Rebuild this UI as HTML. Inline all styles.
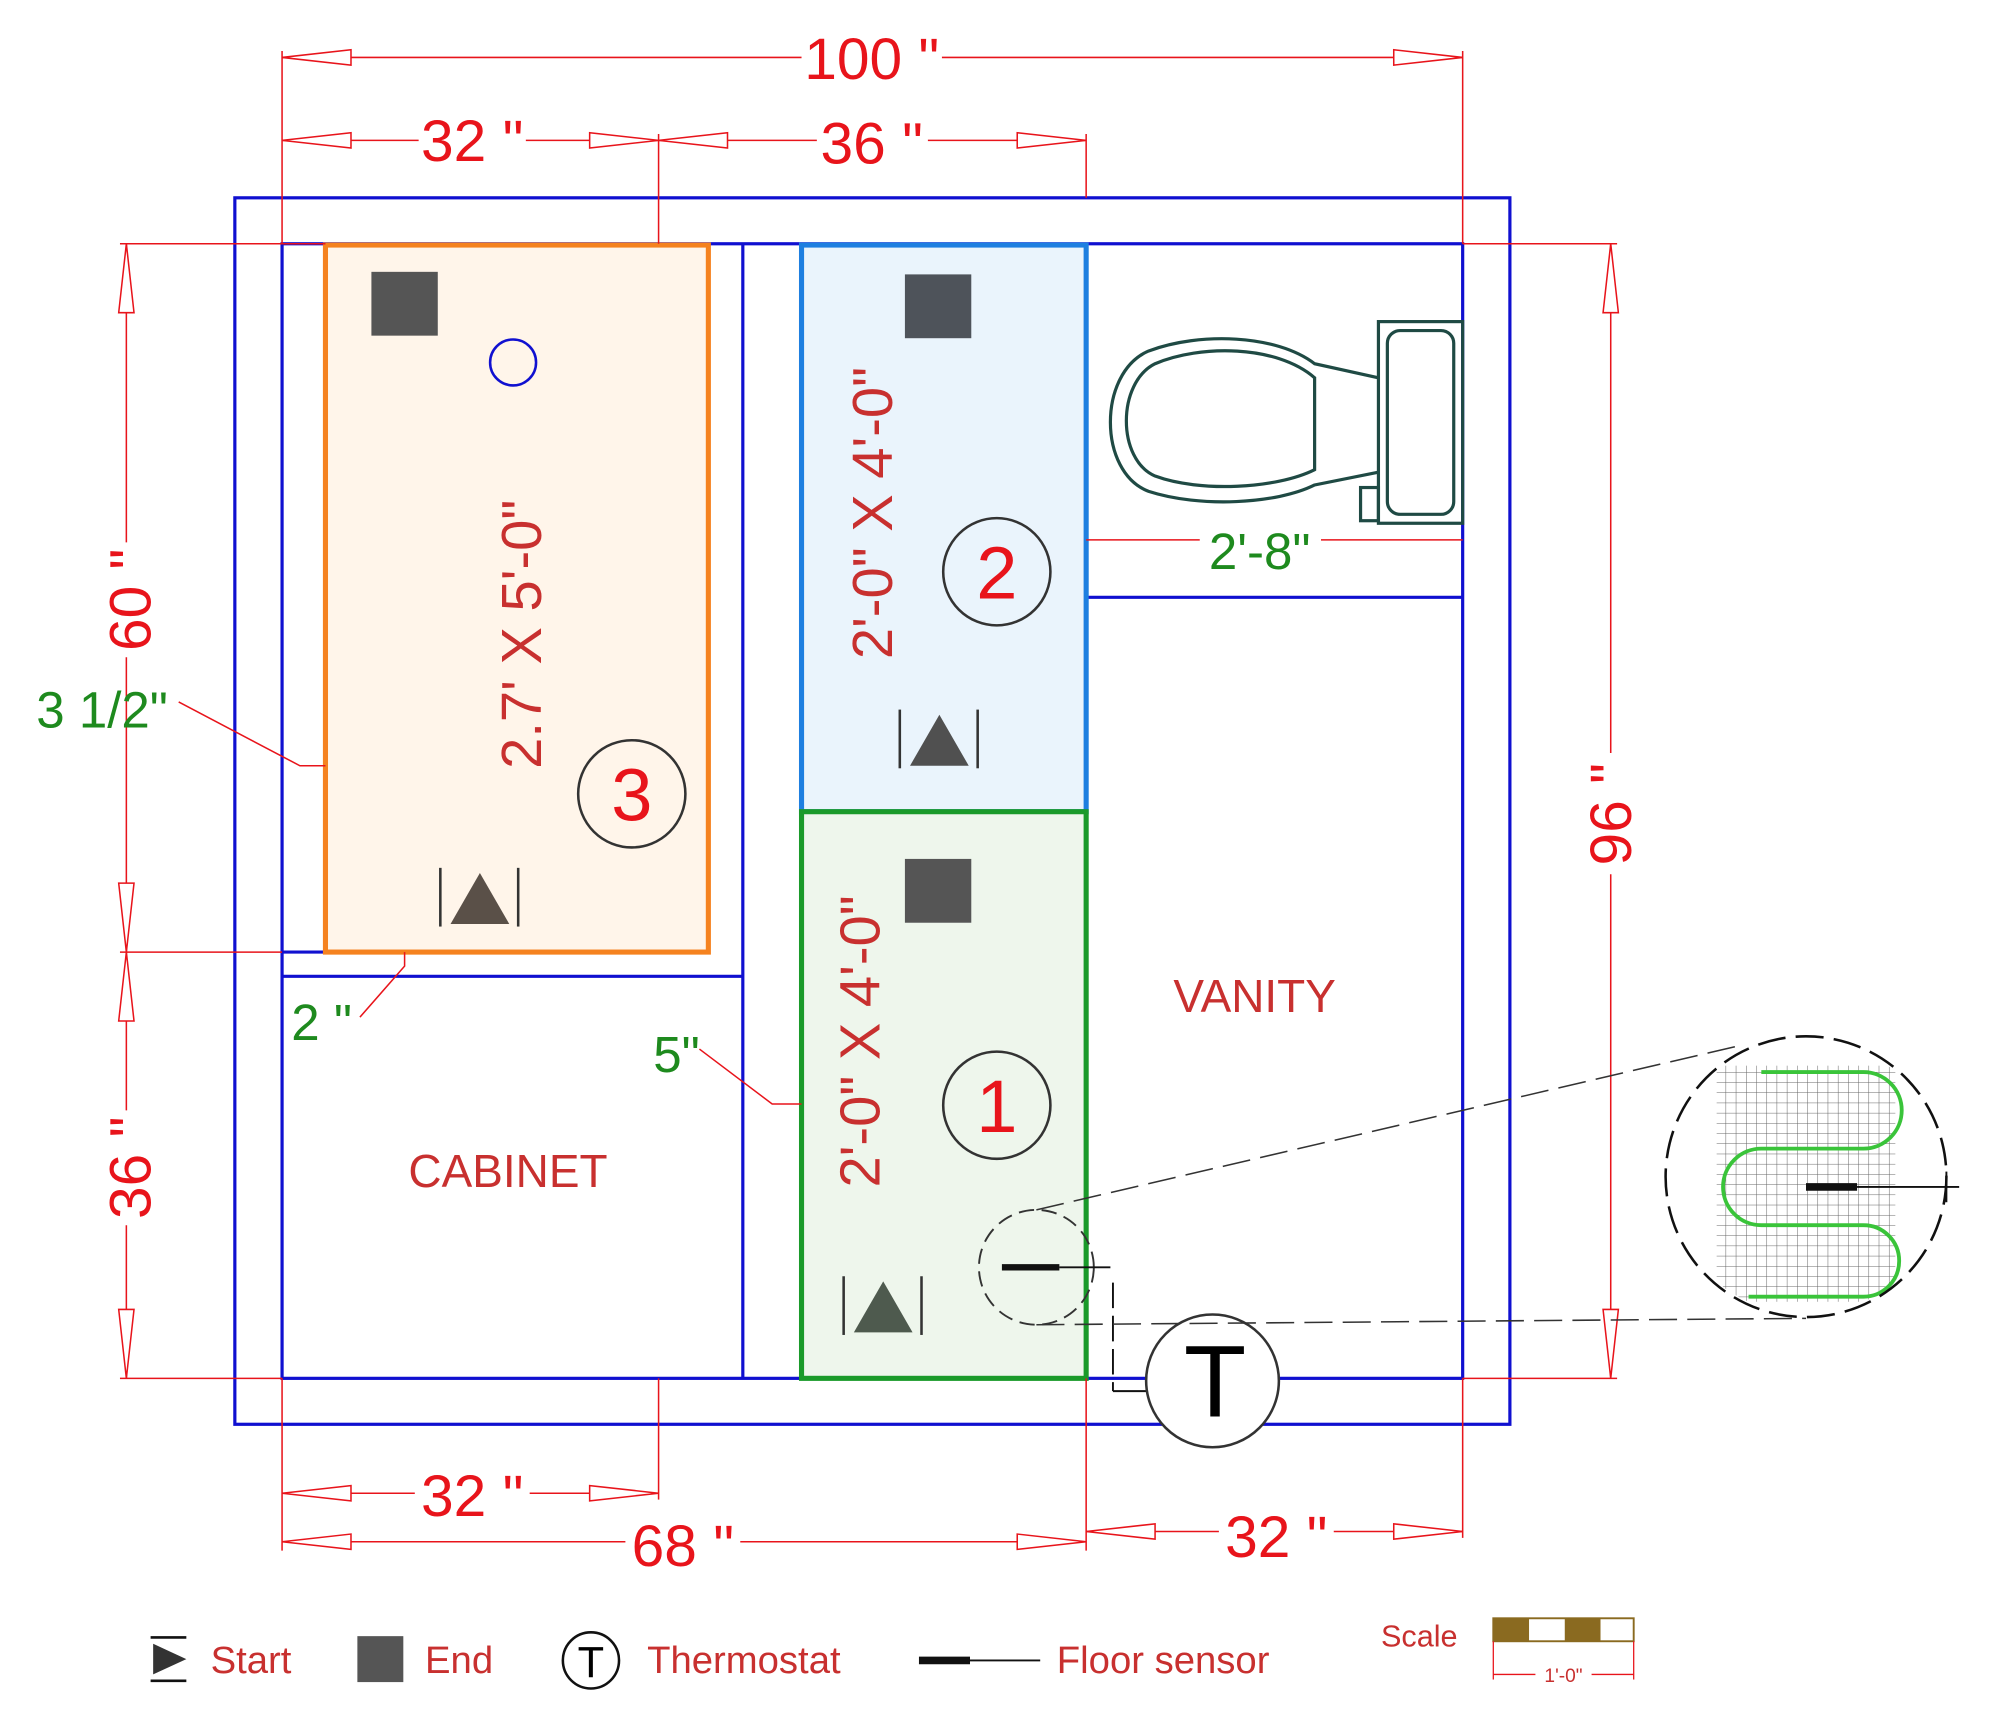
<!DOCTYPE html>
<html><head><meta charset="utf-8"><style>
html,body{margin:0;padding:0;background:#fff}
svg{display:block}
text{font-family:"Liberation Sans",Arial,sans-serif}
</style></head><body>
<svg width="2000" height="1714" viewBox="0 0 1567 1343" preserveAspectRatio="none" xmlns="http://www.w3.org/2000/svg">
<defs>
<marker id="a" markerUnits="userSpaceOnUse" markerWidth="60" markerHeight="16" refX="55" refY="8" orient="auto-start-reverse">
<path d="M55,8 L1,2 L1,14 Z" fill="#fff" stroke="#e8141b" stroke-width="1.2"/>
</marker>
<pattern id="g" width="8" height="8" patternUnits="userSpaceOnUse"><path d="M0,0H8M0,0V8" stroke="#666" stroke-width="0.8" fill="none"/></pattern>
<clipPath id="cc"><circle cx="1415" cy="922" r="108"/></clipPath>
</defs>
<rect width="1567" height="1343" fill="#fff"/>

<rect x="184" y="155" width="999" height="961" fill="none" stroke="#1010d0" stroke-width="2.5"/>
<rect x="221" y="191" width="925" height="889" fill="none" stroke="#1010d0" stroke-width="2.5"/>
<line x1="582" y1="191" x2="582" y2="1080" stroke="#1010d0" stroke-width="2.5"/>
<line x1="221" y1="765" x2="582" y2="765" stroke="#1010d0" stroke-width="2.5"/>
<line x1="221" y1="746" x2="255" y2="746" stroke="#1010d0" stroke-width="2.5"/>
<line x1="851" y1="468" x2="1146" y2="468" stroke="#1010d0" stroke-width="2.5"/>

<rect x="255" y="192" width="300" height="554" fill="#fff5ea" stroke="#f5821f" stroke-width="4"/>
<rect x="628" y="192" width="223" height="444" fill="#eaf4fc" stroke="#1e7fe0" stroke-width="4"/>
<rect x="628" y="636" width="223" height="444" fill="#eef6ec" stroke="#1a9a2a" stroke-width="4"/>

<rect x="291" y="213" width="52" height="50" fill="#555"/>
<rect x="709" y="215" width="52" height="50" fill="#4e535a"/>
<rect x="709" y="673" width="52" height="50" fill="#555"/>
<circle cx="402" cy="284" r="18" fill="none" stroke="#1010d0" stroke-width="2"/>

<g stroke="#333" stroke-width="2">
<line x1="345" y1="680" x2="345" y2="726"/><line x1="406" y1="680" x2="406" y2="726"/>
<line x1="705" y1="556" x2="705" y2="602"/><line x1="766" y1="556" x2="766" y2="602"/>
<line x1="661" y1="1000" x2="661" y2="1046"/><line x1="722" y1="1000" x2="722" y2="1046"/>
</g>
<path d="M353,724 L376,684 L399,724Z" fill="#5a5048"/>
<path d="M713,600 L736,560 L759,600Z" fill="#505050"/>
<path d="M669,1044 L692,1004 L715,1044Z" fill="#4e5a4e"/>

<g fill="none" stroke="#333" stroke-width="2">
<circle cx="781" cy="448" r="42"/><circle cx="781" cy="866" r="42"/><circle cx="495" cy="622" r="42"/>
</g>
<g fill="#e8141b" font-size="58" text-anchor="middle">
<text x="781" y="469">2</text><text x="781" y="887">1</text><text x="495" y="643">3</text>
</g>

<g fill="#c8302f" font-size="44" text-anchor="middle">
<text transform="translate(424,497) rotate(-90)">2.7' X 5'-0"</text>
<text transform="translate(699,402) rotate(-90)">2'-0" X 4'-0"</text>
<text transform="translate(689,816) rotate(-90)">2'-0" X 4'-0"</text>
<text x="983" y="793" font-size="36">VANITY</text>
<text x="398" y="930" font-size="36">CABINET</text>
</g>

<g fill="none" stroke="#1f4a44" stroke-width="2.5">
<rect x="1080" y="252" width="66" height="158"/>
<rect x="1087" y="259" width="52" height="144" rx="10"/>
<rect x="1066" y="382" width="14" height="26"/>
<path d="M1080,296 L1030,285 C1000,262 940,260 900,275 C860,292 860,370 900,385 C940,398 1000,395 1030,380 L1080,370"/>
<path d="M1030,296 C1000,270 940,270 905,285 C875,300 875,360 905,373 C940,386 1000,383 1030,368 Z"/>
</g>

<g stroke="#e8141b" stroke-width="1.2" fill="none">
<line x1="221" y1="40" x2="221" y2="191"/><line x1="1146" y1="40" x2="1146" y2="191"/>
<line x1="516" y1="105" x2="516" y2="191"/><line x1="851" y1="105" x2="851" y2="155"/>
<line x1="221" y1="45" x2="628" y2="45" marker-start="url(#a)"/><line x1="738" y1="45" x2="1146" y2="45" marker-end="url(#a)"/>
<line x1="221" y1="110" x2="328" y2="110" marker-start="url(#a)"/><line x1="412" y1="110" x2="516" y2="110" marker-end="url(#a)"/>
<line x1="516" y1="110" x2="640" y2="110" marker-start="url(#a)"/><line x1="727" y1="110" x2="851" y2="110" marker-end="url(#a)"/>
<line x1="94" y1="191" x2="255" y2="191"/><line x1="94" y1="746" x2="221" y2="746"/><line x1="94" y1="1080" x2="221" y2="1080"/>
<line x1="99" y1="191" x2="99" y2="425" marker-start="url(#a)"/><line x1="99" y1="515" x2="99" y2="746" marker-end="url(#a)"/>
<line x1="99" y1="746" x2="99" y2="870" marker-start="url(#a)"/><line x1="99" y1="960" x2="99" y2="1080" marker-end="url(#a)"/>
<line x1="1146" y1="191" x2="1267" y2="191"/><line x1="1146" y1="1080" x2="1267" y2="1080"/>
<line x1="1262" y1="191" x2="1262" y2="590" marker-start="url(#a)"/><line x1="1262" y1="685" x2="1262" y2="1080" marker-end="url(#a)"/>
<line x1="221" y1="1080" x2="221" y2="1215"/><line x1="516" y1="1080" x2="516" y2="1175"/>
<line x1="851" y1="1080" x2="851" y2="1215"/><line x1="1146" y1="1080" x2="1146" y2="1205"/>
<line x1="221" y1="1170" x2="325" y2="1170" marker-start="url(#a)"/><line x1="415" y1="1170" x2="516" y2="1170" marker-end="url(#a)"/>
<line x1="221" y1="1208" x2="490" y2="1208" marker-start="url(#a)"/><line x1="580" y1="1208" x2="851" y2="1208" marker-end="url(#a)"/>
<line x1="851" y1="1200" x2="955" y2="1200" marker-start="url(#a)"/><line x1="1045" y1="1200" x2="1146" y2="1200" marker-end="url(#a)"/>
<line x1="851" y1="423" x2="940" y2="423"/><line x1="1035" y1="423" x2="1146" y2="423"/>
<path d="M140,550 L235,600 L255,600"/>
<path d="M282,797 L317,757 L317,746"/>
<path d="M548,822 L605,865 L628,865"/>
</g>
<g fill="#e8141b" font-size="46" text-anchor="middle">
<text x="683" y="62">100 "</text>
<text x="370" y="126">32 "</text><text x="683" y="128">36 "</text>
<text transform="translate(118,470) rotate(-90)">60 "</text>
<text transform="translate(118,915) rotate(-90)">36 "</text>
<text transform="translate(1278,638) rotate(-90)">96 "</text>
<text x="370" y="1188">32 "</text><text x="535" y="1227">68 "</text><text x="1000" y="1220">32 "</text>
</g>
<g fill="#1e8a1e" font-size="40" text-anchor="middle">
<text x="987" y="446">2'-8"</text>
<text x="80" y="570">3 1/2"</text>
<text x="252" y="815">2 "</text>
<text x="530" y="840">5"</text>
</g>

<circle cx="812" cy="993" r="45" fill="none" stroke="#333" stroke-width="1.5" stroke-dasharray="12,6"/>
<line x1="785" y1="993" x2="830" y2="993" stroke="#111" stroke-width="5"/>
<line x1="830" y1="993" x2="870" y2="993" stroke="#111" stroke-width="1.5"/>
<line x1="872" y1="1005" x2="872" y2="1090" stroke="#111" stroke-width="1.5" stroke-dasharray="20,6"/>
<line x1="872" y1="1090" x2="900" y2="1090" stroke="#111" stroke-width="1.5"/>
<circle cx="950" cy="1082" r="52" fill="#fff" stroke="#333" stroke-width="2"/>
<text x="952" y="1110" font-size="80" text-anchor="middle" fill="#000">T</text>
<g stroke="#333" stroke-width="1.2" stroke-dasharray="22,8">
<line x1="812" y1="948" x2="1360" y2="820"/><line x1="812" y1="1038" x2="1415" y2="1033"/>
</g>
<g clip-path="url(#cc)">
<rect x="1345" y="835" width="140" height="185" fill="url(#g)"/>
</g>
<path d="M1380,840 H1460 A25,25 0 0 1 1460,900 H1380 A25,25 0 0 0 1380,960 H1460 A25,25 0 0 1 1460,1016 H1370" fill="none" stroke="#3ac43a" stroke-width="3"/>
<circle cx="1415" cy="922" r="110" fill="none" stroke="#111" stroke-width="2" stroke-dasharray="22,8"/>
<line x1="1415" y1="930" x2="1455" y2="930" stroke="#111" stroke-width="6"/>
<line x1="1455" y1="930" x2="1535" y2="930" stroke="#111" stroke-width="1.5"/>
<line x1="1525" y1="918" x2="1525" y2="942" stroke="#111" stroke-width="1.5"/>

<g stroke="#111" stroke-width="2"><line x1="118" y1="1283" x2="146" y2="1283"/><line x1="118" y1="1317" x2="146" y2="1317"/></g>
<path d="M120,1288 L146,1300 L120,1312Z" fill="#333"/>
<text x="165" y="1311" font-size="30" fill="#c8302f">Start</text>
<rect x="280" y="1282" width="36" height="36" fill="#555"/>
<text x="333" y="1311" font-size="30" fill="#c8302f">End</text>
<circle cx="463" cy="1301" r="22" fill="none" stroke="#111" stroke-width="2"/>
<text x="463" y="1314" font-size="34" text-anchor="middle" fill="#000">T</text>
<text x="507" y="1311" font-size="30" fill="#c8302f">Thermostat</text>
<line x1="720" y1="1301" x2="760" y2="1301" stroke="#111" stroke-width="6"/>
<line x1="760" y1="1301" x2="815" y2="1301" stroke="#111" stroke-width="1.5"/>
<text x="828" y="1311" font-size="30" fill="#c8302f">Floor sensor</text>
<text x="1082" y="1290" font-size="24" fill="#c8302f">Scale</text>
<rect x="1170" y="1268" width="110" height="18" fill="#fff" stroke="#8a6a20" stroke-width="1.5"/>
<rect x="1170" y="1268" width="28" height="18" fill="#8a6a20"/>
<rect x="1226" y="1268" width="28" height="18" fill="#8a6a20"/>
<line x1="1170" y1="1286" x2="1170" y2="1316" stroke="#e8141b"/><line x1="1280" y1="1286" x2="1280" y2="1316" stroke="#e8141b"/>
<line x1="1170" y1="1312" x2="1280" y2="1312" stroke="#e8141b"/>
<rect x="1203" y="1302" width="44" height="16" fill="#fff"/>
<text x="1225" y="1318" font-size="15" text-anchor="middle" fill="#c8302f">1'-0"</text>
</svg>
</body></html>
